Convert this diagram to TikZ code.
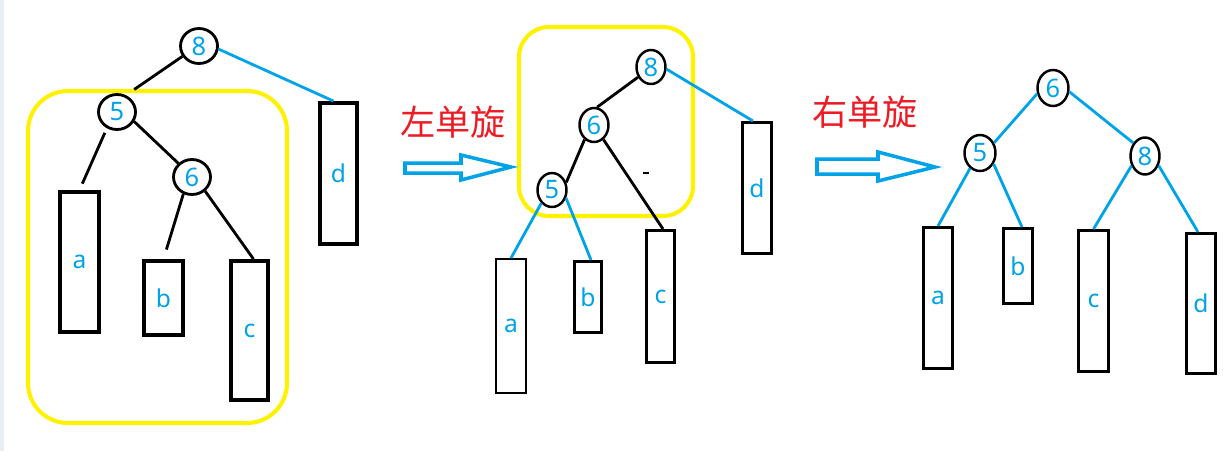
\documentclass[tikz,border=0pt]{standalone}
\usepackage{fontspec}
\setmainfont{Noto Sans}
\newfontfamily\cjkfont{Noto Sans CJK SC}
\usetikzlibrary{shapes.geometric}
\definecolor{treeblue}{RGB}{0,162,232}
\definecolor{hiyellow}{RGB}{255,242,0}
\definecolor{rotred}{RGB}{237,28,36}
\definecolor{framegray}{RGB}{233,239,245}
\begin{document}
\begin{tikzpicture}[x=0.02cm, y=-0.02cm,
  key/.style={draw, ellipse, line width=1.6pt, inner sep=0pt, minimum width=0.74cm, minimum height=0.70cm, text=treeblue, font=\fontsize{14.5}{14.5}\selectfont},
  slim/.style={line width=1.4pt, minimum width=0.58cm, minimum height=0.68cm},
  leaf/.style={draw, line width=1.7pt, inner sep=0pt, text=treeblue, font=\fontsize{14}{14}\selectfont},
  blk/.style={line width=1.6pt},
  blu/.style={line width=1.6pt, draw=treeblue},
  hi/.style={draw=hiyellow, line width=2.3pt},
  fat/.style={draw=treeblue, line width=2pt, line join=miter},
  rot/.style={text=rotred, font=\cjkfont\fontsize{20}{20}\selectfont}]
\useasboundingbox (0,0) rectangle (1232,451);
\fill[framegray] (0,0) rectangle (4,451);

% yellow marks
\draw[hi, rounded corners=0.8cm] (28,91) rectangle (287,423);
\draw[hi, rounded corners=0.6cm] (519,27) rectangle (693,216);

% before rotation
\node[key] (t8) at (199,46) {8};
\node[key] (t5) at (117,112) {5};
\node[key] (t6) at (192,177) {6};
\node[leaf, line width=2.2pt, minimum width=0.78cm, minimum height=2.80cm] (ta) at (79.5,262) {a};
\node[leaf, line width=2.2pt, minimum width=0.78cm, minimum height=1.48cm] (tb) at (163.5,298) {b};
\node[leaf, line width=2.2pt, minimum width=0.74cm, minimum height=2.78cm] (tc) at (249.5,330.5) {c};
\node[leaf, line width=2.2pt, minimum width=0.74cm, minimum height=2.82cm] (td) at (338.5,173.5) {d};
\draw[blk, shorten >=0.2cm] (t8.212) -- (t5.62);
\draw[blk, shorten <=0.1cm, shorten >=0.14cm] (t5.238) -- (ta.north);
\draw[blk] (t5.331) -- (t6.135);
\draw[blk, shorten >=0.2cm] (t6.243) -- (tb.north);
\draw[blk] (t6.313) -- ([xshift=0.08cm]tc.north);
\draw[blu] (t8.351) -- ([xshift=-0.1cm]td.north);

\node[rot] (lrot) at (453,122) {左单旋};
\draw[fat] (405,163) -- (461,163) -- (461,155) -- (511,167) -- (461,180) -- (461,173) -- (405,173) -- cycle;

% middle step
\node[key, slim] (m8) at (651,67) {8};
\node[key, slim] (m6) at (594,125) {6};
\node[key, slim] (m5) at (552,190) {5};
\node[leaf, line width=1.1pt, minimum width=0.60cm, minimum height=2.68cm] (ma) at (511,326) {a};
\node[leaf, minimum width=0.54cm, minimum height=1.42cm] (mb) at (588,297) {b};
\node[leaf, minimum width=0.56cm, minimum height=2.64cm] (mc) at (660.5,296.5) {c};
\node[leaf, minimum width=0.58cm, minimum height=2.62cm] (md) at (757,188) {d};
\draw[blk] (m8.218) -- (m6.80);
\draw[blk] (m6.237) -- (m5.28);
\draw[blk] (m6.303) -- ([xshift=0.05cm]mc.north);
\draw[blu] (m8.352) -- ([xshift=-0.08cm]md.north);
\draw[blu] (m5.231) -- (ma.north);
\draw[blu] (m5.330) -- ([xshift=0.06cm]mb.north);
\draw[line width=0.6pt] (643,173) -- (649,173);

\node[rot] (rrot) at (865,112) {右单旋};
\draw[fat] (817,159) -- (878,159) -- (878,152) -- (935,167) -- (878,181) -- (878,174) -- (817,174) -- cycle;

% after rotation
\node[key, slim, minimum width=0.62cm, minimum height=0.72cm] (r6) at (1053,88) {6};
\node[key, slim, minimum width=0.62cm, minimum height=0.72cm] (r5) at (980,153) {5};
\node[key, slim, minimum width=0.58cm, minimum height=0.74cm] (r8) at (1145,156) {8};
\node[leaf, minimum width=0.58cm, minimum height=2.82cm] (ra) at (938,298) {a};
\node[leaf, minimum width=0.58cm, minimum height=1.50cm] (rb) at (1018,266) {b};
\node[leaf, minimum width=0.60cm, minimum height=2.82cm] (rc) at (1093.5,301) {c};
\node[leaf, minimum width=0.58cm, minimum height=2.80cm] (rd) at (1201,303.5) {d};
\draw[blu] (r6.200) -- (r5.36);
\draw[blu] (r6.347) -- (r8.132);
\draw[blu] (r5.237) -- (ra.north);
\draw[blu] (r5.321) -- ([xshift=0.08cm]rb.north);
\draw[blu] (r8.216) -- (rc.north);
\draw[blu] (r8.325) -- ([xshift=-0.06cm]rd.north);
\end{tikzpicture}
\end{document}
